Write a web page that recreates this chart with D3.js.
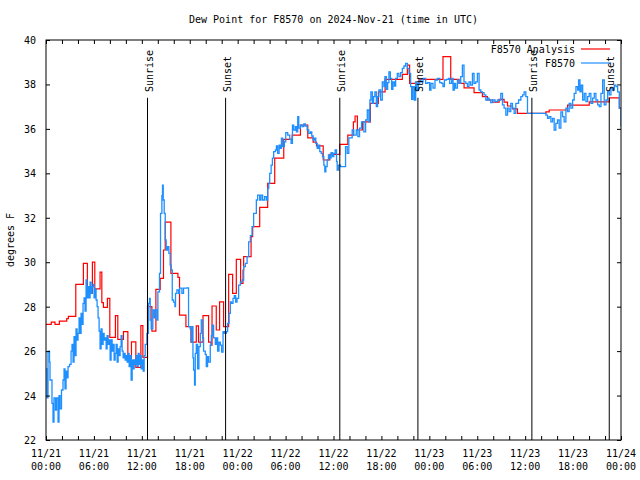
<!DOCTYPE html>
<html><head><meta charset="utf-8">
<script src="https://cdn.jsdelivr.net/npm/d3@7"></script>
<style>
body{margin:0;background:#fff}
text{font-family:"DejaVu Sans Mono",monospace;font-size:10px;fill:#000}
</style>
</head><body>
<svg id="chart" width="640" height="480"></svg>
<script>
// ---- data (hours since 2024-11-21 00:00 UTC) ----
const titleText = "Dew Point for F8570 on 2024-Nov-21 (time in UTC)";
const yLabel = "degrees F";
const seriesNames = ["F8570 Analysis", "F8570"];
const seriesColors = ["#ff0000", "#1e8fff"];

const analysisHours = [0.00,0.66,1.13,1.67,2.60,2.80,3.73,4.68,5.18,5.81,6.11,6.77,6.99,7.19,7.69,7.99,8.69,8.99,9.70,10.25,10.70,11.25,11.88,12.13,12.71,13.26,13.76,14.30,14.71,14.93,15.64,16.52,16.72,17.52,18.15,18.82,19.10,19.66,20.36,20.66,20.79,21.32,21.74,22.24,22.87,23.37,23.83,24.37,24.67,24.75,25.68,25.88,26.76,27.76,28.64,29.77,30.82,31.86,32.78,33.45,33.87,34.71,35.54,36.79,37.79,38.49,38.70,38.99,39.62,40.62,41.62,42.46,44.62,45.25,45.53,46.70,49.71,50.68,51.72,52.35,53.60,54.65,55.28,55.91,56.74,57.36,57.79,58.41,59.04,62.59,63.01,65.31,68.02,70.53,71.79,72.00];
const analysisValues = [27.2,27.3,27.2,27.35,27.46,27.56,29.0,29.95,28.6,30.0,28.8,29.55,28.18,27.97,28.37,26.62,27.6,26.53,26.88,25.68,26.42,25.27,27.15,25.72,28.0,26.9,28.78,29.27,30.55,31.8,29.5,29.32,27.62,27.1,26.4,27.14,26.4,27.6,26.4,26.27,28.03,26.95,28.22,27.1,29.45,28.6,30.13,29.05,29.65,30.25,31.15,31.6,32.47,33.55,34.68,35.53,35.72,36.17,35.6,35.4,35.24,34.6,34.85,35.3,35.72,36.32,36.58,35.95,36.32,37.15,37.67,38.23,38.45,38.87,38.05,38.23,39.25,38.23,38.05,37.85,37.63,37.45,37.3,37.2,37.33,37.2,37.03,36.9,36.7,36.77,36.85,37.07,37.22,37.4,36.93,36.93];

const obsHours = [0.00,0.13,0.25,0.44,0.50,0.75,0.88,1.00,1.19,1.32,1.51,1.63,1.76,1.94,2.13,2.26,2.38,2.51,2.63,2.76,2.95,3.14,3.26,3.39,3.51,3.64,3.76,3.89,4.01,4.14,4.26,4.39,4.52,4.64,4.77,4.89,5.02,5.14,5.27,5.39,5.52,5.64,5.77,5.90,6.02,6.15,6.27,6.40,6.52,6.65,6.77,6.90,7.02,7.15,7.28,7.40,7.53,7.65,7.78,7.90,8.03,8.15,8.28,8.40,8.53,8.66,8.78,8.91,9.03,9.16,9.28,9.41,9.53,9.66,9.78,9.91,10.04,10.16,10.29,10.41,10.54,10.66,10.79,10.91,11.04,11.16,11.29,11.41,11.54,11.67,11.79,11.92,12.04,12.17,12.29,12.42,12.63,12.83,12.96,13.05,13.17,13.38,13.55,13.67,13.89,14.01,14.21,14.34,14.51,14.59,14.68,14.80,14.93,15.05,15.22,15.39,15.55,15.68,15.81,15.97,16.14,16.22,16.39,16.60,16.72,17.02,17.22,17.65,17.85,18.06,18.19,18.27,18.40,18.48,18.60,18.69,18.82,18.98,19.15,19.32,19.44,19.61,19.73,19.94,20.07,20.23,20.36,20.57,20.70,20.82,20.99,21.20,21.33,21.49,21.66,21.83,21.99,22.17,22.33,22.58,22.74,22.92,23.08,23.24,23.42,23.58,23.75,23.92,24.12,24.34,24.55,24.75,24.96,25.18,25.38,25.59,25.80,26.00,26.34,26.50,26.76,26.93,27.13,27.38,27.60,27.76,27.89,28.01,28.19,28.35,28.51,28.73,28.85,29.01,29.19,29.35,29.48,29.64,29.85,30.02,30.27,30.52,30.69,30.86,31.02,31.23,31.36,31.52,31.65,31.86,32.07,32.28,32.49,32.70,32.90,33.12,33.28,33.45,33.62,33.78,33.96,34.12,34.28,34.46,34.62,34.79,34.91,35.04,35.21,35.37,35.54,35.70,35.88,36.04,36.21,36.38,36.46,36.63,36.88,37.51,37.72,37.92,38.34,38.54,38.85,39.05,39.26,39.51,39.80,40.02,40.23,40.43,40.56,40.68,40.86,41.02,41.18,41.36,41.52,41.69,41.90,42.11,42.31,42.44,42.61,42.78,42.94,43.12,43.28,43.44,43.62,43.78,43.99,44.19,44.41,44.62,44.82,45.03,45.25,45.45,45.66,45.79,45.95,46.13,46.29,46.45,46.63,46.79,46.95,47.20,47.54,47.79,48.04,48.21,48.46,48.71,49.01,49.30,49.55,49.71,49.89,50.14,50.39,50.55,50.80,50.97,51.14,51.30,51.52,51.72,51.93,52.14,52.34,52.56,52.77,52.97,53.18,53.40,53.60,53.81,54.02,54.23,54.44,54.65,54.85,55.07,55.28,55.48,55.69,55.91,56.23,56.53,56.95,57.16,57.36,57.58,57.79,57.99,58.20,58.41,58.62,58.83,59.17,59.46,59.67,59.87,60.08,60.29,62.59,62.80,63.00,63.22,63.43,63.63,63.84,64.05,64.26,64.47,64.68,64.88,65.10,65.31,65.51,65.72,65.94,66.14,66.36,66.57,66.69,66.86,67.02,67.20,67.40,67.61,67.82,68.02,68.23,68.45,68.65,68.86,69.08,69.28,69.49,69.70,69.90,70.12,70.33,70.53,70.74,70.96,71.16,71.37,71.58,71.79,72.00];
const obsValues = [25.2,23.9,26.0,25.5,24.7,23.65,22.8,23.9,23.35,23.9,22.8,24.0,23.4,24.25,24.7,25.2,24.3,25.1,24.8,25.3,25.4,26.0,26.3,25.5,26.65,25.8,27.0,26.5,26.8,27.5,26.8,27.7,27.2,28.15,28.4,27.8,29.2,28.4,28.9,28.4,29.1,28.6,28.9,29.0,28.4,28.8,28.3,28.0,27.5,26.9,26.1,27.0,26.3,26.8,26.5,26.6,26.1,26.7,26.3,26.5,25.6,26.5,26.0,26.3,25.6,25.9,26.3,25.5,26.1,25.8,26.2,26.7,26.0,25.7,25.9,25.6,25.8,25.5,25.9,25.3,25.8,24.7,25.6,25.2,25.6,25.4,25.8,25.3,25.9,25.4,25.8,25.2,25.6,25.1,25.8,26.3,26.8,28.15,28.37,27.4,27.0,27.85,27.5,27.85,27.4,28.67,29.5,32.2,33.0,33.47,32.8,32.2,31.0,30.55,30.7,30.4,29.87,29.65,28.3,28.2,28.0,28.6,28.75,28.6,28.83,28.6,28.83,28.85,27.1,27.0,26.4,27.1,25.7,25.15,24.47,25.9,26.3,25.2,26.2,26.8,27.4,26.6,26.0,25.85,25.3,25.75,25.5,26.27,26.7,27.17,26.6,26.3,26.6,26.0,26.4,26.27,25.95,26.88,26.8,26.88,27.25,27.7,28.22,28.15,28.37,28.5,28.2,28.37,28.97,29.1,29.2,29.8,29.95,30.25,30.92,31.2,31.6,32.2,32.8,33.02,32.8,33.02,32.8,32.95,32.8,33.32,33.55,34.0,34.37,34.68,34.98,35.05,35.23,34.9,35.27,35.12,35.58,35.2,35.42,35.83,35.72,35.53,35.35,36.17,35.95,36.1,35.87,36.55,36.03,36.17,36.1,36.22,36.13,35.95,35.8,35.87,35.68,35.5,35.58,35.35,35.12,35.27,34.98,34.9,34.75,34.37,34.07,34.3,34.6,34.83,34.68,34.93,34.75,34.9,35.05,34.53,34.15,34.37,34.3,35.2,34.9,35.6,35.95,35.72,35.95,35.65,36.03,36.32,35.87,36.4,36.85,36.32,37.3,37.67,37.15,37.45,37.67,37.0,37.45,37.75,37.3,38.12,37.9,38.35,37.78,38.08,38.57,38.27,37.78,38.12,37.93,38.27,38.5,38.35,38.53,38.72,38.83,38.95,38.72,38.5,37.9,37.33,37.9,37.3,38.12,37.78,38.05,38.2,38.12,38.27,38.05,38.08,37.75,38.05,37.83,38.2,38.27,38.08,38.05,37.9,38.2,38.23,38.27,38.05,38.27,37.75,38.05,37.83,38.2,38.05,38.35,38.87,38.12,38.05,37.9,38.12,37.97,38.5,38.05,38.12,38.5,37.75,37.67,37.63,37.53,37.3,37.38,37.3,37.18,37.3,37.23,37.3,37.6,37.08,36.93,36.62,36.93,36.78,37.15,36.93,36.7,37.15,37.3,37.45,37.53,37.67,37.45,36.7,36.62,36.47,36.55,36.32,36.47,35.95,36.25,36.4,36.03,36.77,36.55,36.32,36.93,36.78,37.15,36.93,37.3,37.6,37.9,37.75,38.2,37.67,37.97,37.3,37.6,37.23,37.45,37.6,37.15,37.38,37.6,37.3,37.08,37.0,37.6,38.2,37.08,37.3,37.67,37.53,37.82,37.75,37.97,37.9,37.67,36.93,36.1];

const sunLabels = ["Sunrise","Sunset","Sunrise","Sunset","Sunrise","Sunset"];
const sunHours = [12.71,22.49,36.79,46.57,60.84,70.53];

const yTickValues = [22,24,26,28,30,32,34,36,38,40];
const xLabelHours = [0,6,12,18,24,30,36,42,48,54,60,66,72];
const xMinorHours = d3.range(0, 73, 2);

// ---- layout ----
const start = Date.UTC(2024,10,21,0,0,0);
const toDate = h => new Date(start + h*3600*1000);
const L=46, R=621, T=40, B=440;

const svg = d3.select("#chart");
svg.append("rect").attr("width",640).attr("height",480).attr("fill","#fff");

const x = d3.scaleUtc().domain([toDate(0), toDate(72)]).range([L,R]);
const y = d3.scaleLinear().domain([22,40]).range([B,T]);

const clipId = "plotclip";
svg.append("clipPath").attr("id",clipId).append("rect")
  .attr("x",L).attr("y",T).attr("width",R-L).attr("height",B-T);

// series
const analysis = analysisHours.map((h,i)=>({t:toDate(h), v:analysisValues[i]}));
const obs = obsHours.map((h,i)=>({t:toDate(h), v:obsValues[i]}));
const line = d3.line().x(d=>x(d.t)).y(d=>y(d.v)).curve(d3.curveStepAfter);

const g = svg.append("g").attr("clip-path",`url(#${clipId})`);
g.append("path").datum(analysis).attr("d",line).attr("fill","none")
  .attr("stroke",seriesColors[0]).attr("stroke-width",1.2);
g.append("path").datum(obs).attr("d",line).attr("fill","none")
  .attr("stroke",seriesColors[1]).attr("stroke-width",1.3);

// axes (ticks inward, mirrored)
const fmtD = d3.utcFormat("%m/%d"), fmtT = d3.utcFormat("%H:%M");
const tickLen = 4;
svg.append("g").attr("transform",`translate(0,${B})`)
  .call(d3.axisBottom(x).tickValues(xMinorHours.map(toDate)).tickSize(-tickLen).tickFormat(""))
  .call(a=>a.select(".domain").remove());
svg.append("g").attr("transform",`translate(0,${T})`)
  .call(d3.axisTop(x).tickValues(xMinorHours.map(toDate)).tickSize(-tickLen).tickFormat(""))
  .call(a=>a.select(".domain").remove());
svg.append("g").attr("transform",`translate(${L},0)`)
  .call(d3.axisLeft(y).tickValues(yTickValues).tickSize(-tickLen).tickPadding(tickLen+6).tickFormat(d3.format("d")))
  .call(a=>a.select(".domain").remove())
  .call(a=>a.selectAll("text").style("font-family","DejaVu Sans Mono").style("font-size","10px").attr("dy","0.35em"));
svg.append("g").attr("transform",`translate(${R},0)`)
  .call(d3.axisRight(y).tickValues(yTickValues).tickSize(-tickLen).tickFormat(""))
  .call(a=>a.select(".domain").remove());
svg.selectAll(".tick line").attr("stroke","#000");

// x labels (two lines)
const xl = svg.append("g");
xLabelHours.forEach(h=>{
  const t = toDate(h);
  const tx = xl.append("text").attr("x",x(t)).attr("text-anchor","middle");
  tx.append("tspan").attr("x",x(t)).attr("y",457).text(fmtD(t));
  tx.append("tspan").attr("x",x(t)).attr("y",470).text(fmtT(t));
});

// border
svg.append("rect").attr("x",L).attr("y",T).attr("width",R-L).attr("height",B-T)
  .attr("fill","none").attr("stroke","#000").attr("stroke-width",1);

// sunrise / sunset markers
sunHours.forEach((h,i)=>{
  const sx = x(toDate(h));
  svg.append("line").attr("x1",sx).attr("x2",sx).attr("y1",y(37.4)).attr("y2",B)
    .attr("stroke","#000").attr("stroke-width",1);
  svg.append("text").attr("transform",`translate(${sx+5},${92}) rotate(-90)`)
    .attr("text-anchor","start").text(sunLabels[i]);
});

// title & y label
svg.append("text").attr("x",(L+R)/2).attr("y",23).attr("text-anchor","middle").text(titleText);
svg.append("text").attr("transform",`translate(14,${(T+B)/2}) rotate(-90)`)
  .attr("text-anchor","middle").text(yLabel);

// legend
const leg = svg.append("g");
seriesNames.forEach((n,i)=>{
  const ly = 49 + i*14;
  leg.append("text").attr("x",575).attr("y",ly).attr("dy","0.35em").attr("text-anchor","end").text(n);
  leg.append("line").attr("x1",581).attr("x2",610).attr("y1",ly).attr("y2",ly)
    .attr("stroke",seriesColors[i]).attr("stroke-width",1.2);
});
</script>
</body></html>
